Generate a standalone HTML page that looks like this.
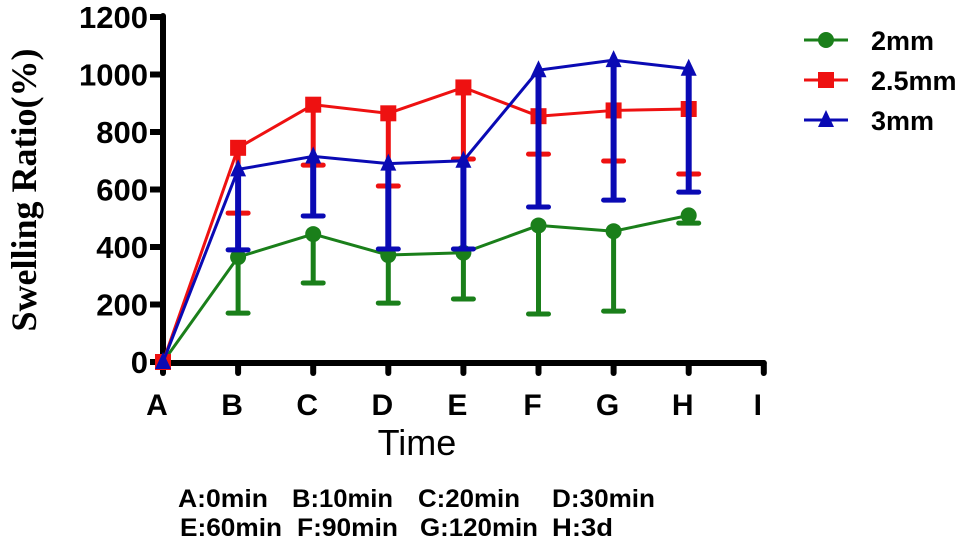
<!DOCTYPE html>
<html><head><meta charset="utf-8"><style>
body{margin:0;background:#fff;width:975px;height:543px;overflow:hidden}
svg{display:block}
text{font-family:"Liberation Sans",Arial,sans-serif}
.fn{font-size:25px;font-weight:bold}
</style></head><body>
<svg id="chart" width="975" height="543">
<g id="axes"></g><g id="series"></g><g id="legend"></g>
<text transform="translate(36,190) rotate(-90)" text-anchor="middle" style="font-family:'Liberation Serif',serif;font-weight:bold;font-size:36px">Swelling Ratio(%)</text>
<text x="417" y="455" text-anchor="middle" style="font-size:36px">Time</text>
<g>
<text class="fn" x="178" y="507" textLength="90" lengthAdjust="spacingAndGlyphs">A:0min</text>
<text class="fn" x="292" y="507" textLength="101" lengthAdjust="spacingAndGlyphs">B:10min</text>
<text class="fn" x="418" y="507" textLength="102" lengthAdjust="spacingAndGlyphs">C:20min</text>
<text class="fn" x="552" y="507" textLength="103" lengthAdjust="spacingAndGlyphs">D:30min</text>
<text class="fn" x="180" y="536" textLength="102" lengthAdjust="spacingAndGlyphs">E:60min</text>
<text class="fn" x="297" y="536" textLength="101" lengthAdjust="spacingAndGlyphs">F:90min</text>
<text class="fn" x="420" y="536" textLength="118" lengthAdjust="spacingAndGlyphs">G:120min</text>
<text class="fn" x="552" y="536" textLength="61" lengthAdjust="spacingAndGlyphs">H:3d</text>
</g>
</svg>
<script>
const categories=["A","B","C","D","E","F","G","H","I"];
const yTicks=[0,200,400,600,800,1000,1200];
const seriesNames=["2mm","2.5mm","3mm"];
const mean2=[0,365,445,372,380,475,455,510];
const low2=[0,170,275,205,219,167,177,483];
const mean25=[0,745,895,865,955,855,875,880];
const low25=[0,518,685,612,706,723,699,654];
const mean3=[0,670,715,690,700,1015,1050,1020];
const low3=[0,390,508,393,393,539,563,591];
const colors=["#1a7f1a","#ee1111","#0a0ab4"];
const NS="http://www.w3.org/2000/svg";
const x=i=>163+i*75.1;
const y=v=>362-v*(345/1200);
function mk(p,tag,a){const e=document.createElementNS(NS,tag);for(const k in a)e.setAttribute(k,a[k]);p.appendChild(e);return e;}
const ax=document.getElementById('axes');
let e=mk(ax,'line',{x1:163,y1:y(1200)-1,x2:163,y2:364,stroke:'#000','stroke-width':6,'stroke-linecap':'round'});


e=mk(ax,'line',{x1:160,y1:363,x2:x(8),y2:363,stroke:'#000','stroke-width':6,'stroke-linecap':'round'});


yTicks.forEach(v=>{
 mk(ax,'line',{x1:150,y1:y(v),x2:163,y2:y(v),stroke:'#000','stroke-width':6});
 const t=mk(ax,'text',{x:148,y:y(v)+11,'text-anchor':'end','font-size':31,'font-weight':'bold'});t.textContent=v;
 
 
});
categories.forEach((c,i)=>{
 mk(ax,'line',{x1:x(i),y1:363,x2:x(i),y2:373,stroke:'#000','stroke-width':6,'stroke-linecap':'round'});
 const t=mk(ax,'text',{x:x(i)-6,y:415,'text-anchor':'middle','font-size':30,'font-weight':'bold'});t.textContent=c;
 
 
});
const sg=document.getElementById('series');
function marker(g,k,cx,cy,col,s){
 if(k===0)return mk(g,'circle',{cx,cy,r:s,fill:col});
 if(k===1)return mk(g,'rect',{x:cx-s,y:cy-s,width:2*s,height:2*s,fill:col});
 return mk(g,'polygon',{points:`${cx},${cy-s-2} ${cx-s},${cy+s-1} ${cx+s},${cy+s-1}`,fill:col});
}
[[mean2,low2],[mean25,low25],[mean3,low3]].forEach(([m,l],k)=>{
 const g=mk(sg,'g',{});
 
 
 const col=colors[k];
 m.forEach((v,i)=>{
  if(i===0)return;
  const w=k===2?6:5;
  mk(g,'line',{x1:x(i),y1:y(v),x2:x(i),y2:y(l[i]),stroke:col,'stroke-width':w});
  mk(g,'line',{x1:x(i)-10,y1:y(l[i]),x2:x(i)+10,y2:y(l[i]),stroke:col,'stroke-width':5,'stroke-linecap':'round'});
 });
 mk(g,'polyline',{points:m.map((v,i)=>x(i)+','+y(v)).join(' '),fill:'none',stroke:col,'stroke-width':3});
 m.forEach((v,i)=>{const mm=marker(g,k,x(i),y(v),col,8);
  
  });
});
const lg=document.getElementById('legend');
seriesNames.forEach((n,k)=>{
 const yy=40+k*40;
 const g=mk(lg,'g',{});
 
 
 mk(g,'line',{x1:804,y1:yy,x2:848,y2:yy,stroke:colors[k],'stroke-width':3});
 marker(g,k,826,yy,colors[k],8);
 const t=mk(g,'text',{x:871,y:yy+10,'font-size':27,'font-weight':'bold'});t.textContent=n;
});
</script>
</body></html>
